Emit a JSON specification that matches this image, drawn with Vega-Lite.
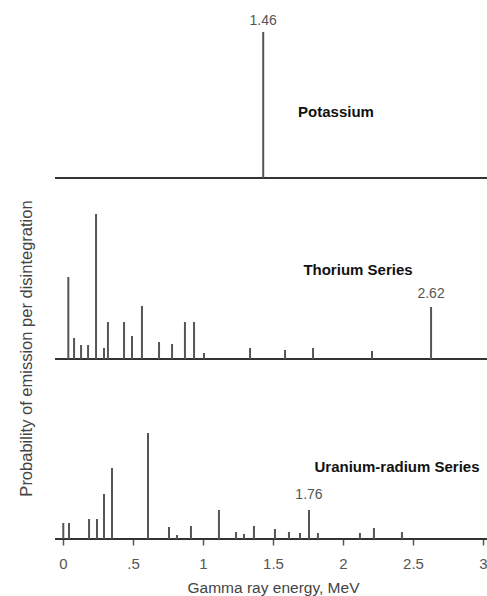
{
  "$schema": "https://vega.github.io/schema/vega-lite/v6.json",
  "padding": {"top": 10, "left": 0, "right": 0, "bottom": 0},
  "autosize": {"type": "pad"},
  "bounds": "flush",
  "spacing": 10,
  "config": {"view": {"stroke": null}, "font": "Liberation Sans"},
  "datasets": {
    "k": [{"e": 1.43, "p": 43.8}],
    "klab": [{"e": 1.43, "p": 43.8, "label": "1.46"}],
    "kname": [{"e": 1.679, "p": 19.8, "label": "Potassium"}],
    "th": [
      {"e": 0.038, "p": 24.6}, {"e": 0.079, "p": 6.3}, {"e": 0.129, "p": 4.2},
      {"e": 0.179, "p": 4.2}, {"e": 0.236, "p": 43.5}, {"e": 0.293, "p": 3.3},
      {"e": 0.321, "p": 11.1}, {"e": 0.436, "p": 11.1}, {"e": 0.493, "p": 6.9},
      {"e": 0.564, "p": 15.9}, {"e": 0.686, "p": 5.1}, {"e": 0.779, "p": 4.5},
      {"e": 0.871, "p": 11.1}, {"e": 0.936, "p": 11.1}, {"e": 1.007, "p": 1.8},
      {"e": 1.336, "p": 3.3}, {"e": 1.586, "p": 2.7}, {"e": 1.786, "p": 3.3},
      {"e": 2.207, "p": 2.4}, {"e": 2.629, "p": 15.6}
    ],
    "thlab": [{"e": 2.629, "p": 15.6, "label": "2.62"}],
    "thname": [{"e": 2.107, "p": 26.7, "label": "Thorium Series"}],
    "u": [
      {"e": 0.002, "p": 4.8}, {"e": 0.043, "p": 4.8}, {"e": 0.186, "p": 6.0},
      {"e": 0.243, "p": 6.0}, {"e": 0.293, "p": 13.5}, {"e": 0.35, "p": 21.3},
      {"e": 0.607, "p": 31.8}, {"e": 0.757, "p": 3.6}, {"e": 0.814, "p": 1.2},
      {"e": 0.914, "p": 3.9}, {"e": 1.114, "p": 8.7}, {"e": 1.236, "p": 2.1},
      {"e": 1.293, "p": 1.5}, {"e": 1.364, "p": 3.9}, {"e": 1.514, "p": 3.0},
      {"e": 1.614, "p": 2.1}, {"e": 1.693, "p": 1.8}, {"e": 1.757, "p": 8.7},
      {"e": 1.821, "p": 1.8}, {"e": 2.121, "p": 1.8}, {"e": 2.221, "p": 3.3},
      {"e": 2.421, "p": 2.1}
    ],
    "ulab": [{"e": 1.757, "p": 8.7, "label": "1.76"}],
    "uname": [{"e": 2.386, "p": 21.6, "label": "Uranium-radium Series"}]
  },
  "vconcat": [
    {
      "width": 487,
      "height": 168,
      "layer": [
        {
          "data": {"values": [{}]},
          "mark": {"type": "rule", "color": "#333", "strokeWidth": 2},
          "encoding": {
            "x": {"datum": -0.057, "type": "quantitative", "scale": {"domain": [-0.45, 3.0286], "nice": false, "zero": false}, "axis": null},
            "x2": {"datum": 3.03},
            "y": {"datum": 0, "type": "quantitative", "scale": {"domain": [0, 50.4], "nice": false}, "axis": null}
          }
        },
        {
          "data": {"name": "k"},
          "mark": {"type": "rule", "color": "#555", "strokeWidth": 2},
          "encoding": {
            "x": {"field": "e", "type": "quantitative", "axis": null},
            "y": {"field": "p", "type": "quantitative", "axis": null},
            "y2": {"datum": 0}
          }
        },
        {
          "data": {"name": "klab"},
          "mark": {"type": "text", "fontSize": 14, "color": "#555", "baseline": "alphabetic", "align": "center", "dy": -7},
          "encoding": {
            "x": {"field": "e", "type": "quantitative", "axis": null},
            "y": {"field": "p", "type": "quantitative", "axis": null},
            "text": {"field": "label"}
          }
        },
        {
          "data": {"name": "kname"},
          "mark": {"type": "text", "fontSize": 15, "fontWeight": "bold", "color": "#111", "baseline": "middle", "align": "left"},
          "encoding": {
            "x": {"field": "e", "type": "quantitative", "axis": null},
            "y": {"field": "p", "type": "quantitative", "axis": null},
            "text": {"field": "label"}
          }
        }
      ]
    },
    {
      "width": 487,
      "height": 171,
      "layer": [
        {
          "data": {"values": [{}]},
          "mark": {"type": "rule", "color": "#333", "strokeWidth": 2},
          "encoding": {
            "x": {"datum": -0.057, "type": "quantitative", "scale": {"domain": [-0.45, 3.0286], "nice": false, "zero": false}, "axis": null},
            "x2": {"datum": 3.03},
            "y": {
              "datum": 0, "type": "quantitative", "scale": {"domain": [0, 51.3], "nice": false},
              "axis": {
                "title": "Probability of emission per disintegration",
                "domain": false, "ticks": false, "labels": false, "grid": false,
                "titleX": 26, "titleY": 160, "titleAngle": 270,
                "titleAlign": "center", "titleBaseline": "middle",
                "titleFontSize": 16.5, "titleFontWeight": "normal", "titleColor": "#444"
              }
            }
          }
        },
        {
          "data": {"name": "th"},
          "mark": {"type": "rule", "color": "#555", "strokeWidth": 2},
          "encoding": {
            "x": {"field": "e", "type": "quantitative", "axis": null},
            "y": {"field": "p", "type": "quantitative"},
            "y2": {"datum": 0}
          }
        },
        {
          "data": {"name": "thlab"},
          "mark": {"type": "text", "fontSize": 14, "color": "#555", "baseline": "alphabetic", "align": "center", "dy": -9},
          "encoding": {
            "x": {"field": "e", "type": "quantitative", "axis": null},
            "y": {"field": "p", "type": "quantitative"},
            "text": {"field": "label"}
          }
        },
        {
          "data": {"name": "thname"},
          "mark": {"type": "text", "fontSize": 15, "fontWeight": "bold", "color": "#111", "baseline": "middle", "align": "center"},
          "encoding": {
            "x": {"field": "e", "type": "quantitative", "axis": null},
            "y": {"field": "p", "type": "quantitative"},
            "text": {"field": "label"}
          }
        }
      ]
    },
    {
      "width": 487,
      "height": 170,
      "layer": [
        {
          "data": {"values": [{}]},
          "mark": {"type": "rule", "color": "#333", "strokeWidth": 2},
          "encoding": {
            "x": {
              "datum": -0.057, "type": "quantitative",
              "scale": {"domain": [-0.45, 3.0286], "nice": false, "zero": false},
              "axis": {
                "values": [0, 0.5, 1, 1.5, 2, 2.5, 3],
                "labelExpr": "datum.value == 0.5 ? '.5' : '' + datum.value",
                "domain": false, "grid": false,
                "tickSize": 6, "tickWidth": 1.5, "tickColor": "#555",
                "labelFontSize": 15, "labelColor": "#555", "labelPadding": 11,
                "title": "Gamma ray energy, MeV",
                "titleX": 273, "titleY": 53, "titleAlign": "center", "titleBaseline": "alphabetic",
                "titleFontSize": 15.5, "titleFontWeight": "normal", "titleColor": "#444"
              }
            },
            "x2": {"datum": 3.03},
            "y": {"datum": 0, "type": "quantitative", "scale": {"domain": [0, 51], "nice": false}, "axis": null}
          }
        },
        {
          "data": {"name": "u"},
          "mark": {"type": "rule", "color": "#555", "strokeWidth": 2},
          "encoding": {
            "x": {"field": "e", "type": "quantitative"},
            "y": {"field": "p", "type": "quantitative", "axis": null},
            "y2": {"datum": 0}
          }
        },
        {
          "data": {"name": "ulab"},
          "mark": {"type": "text", "fontSize": 14, "color": "#555", "baseline": "alphabetic", "align": "center", "dy": -11},
          "encoding": {
            "x": {"field": "e", "type": "quantitative"},
            "y": {"field": "p", "type": "quantitative", "axis": null},
            "text": {"field": "label"}
          }
        },
        {
          "data": {"name": "uname"},
          "mark": {"type": "text", "fontSize": 15, "fontWeight": "bold", "color": "#111", "baseline": "middle", "align": "center"},
          "encoding": {
            "x": {"field": "e", "type": "quantitative"},
            "y": {"field": "p", "type": "quantitative", "axis": null},
            "text": {"field": "label"}
          }
        }
      ]
    }
  ]
}
